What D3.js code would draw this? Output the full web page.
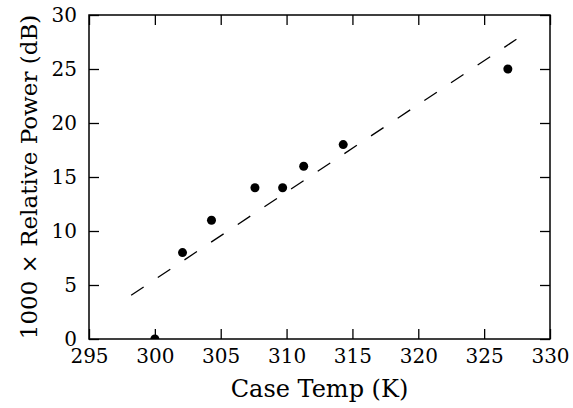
<!DOCTYPE html>
<html lang="en">
<head>
<meta charset="utf-8">
<title>Relative Power vs Case Temp</title>
<script src="https://d3js.org/d3.v7.min.js"></script>
<style>
  body { margin: 0; background: #fff; }
  svg text { font-family: "DejaVu Serif", serif; fill: #000; }
</style>
</head>
<body>
<div id="chart"></div>
<script>
// measured points
var caseTemp = [300.0, 302.1, 304.3, 307.6, 309.7, 311.3, 314.3, 326.8];
var relPower = [0, 8, 11, 14, 14, 16, 18, 25];

// fitted trend line (dashed)
var fitTemp = [298.2, 327.45];
var fitPower = [4.05, 27.75];

var xTicks = [295, 300, 305, 310, 315, 320, 325, 330];
var yTicks = [0, 5, 10, 15, 20, 25, 30];

var margin = {top: 15, right: 23, bottom: 69, left: 89},
    width = 573 - margin.left - margin.right,
    height = 408 - margin.top - margin.bottom;

var svg = d3.select("#chart").append("svg")
    .attr("width", 573)
    .attr("height", 408);

var g = svg.append("g")
    .attr("transform", "translate(" + margin.left + "," + margin.top + ")");

var x = d3.scaleLinear().domain([295, 330]).range([0, width]);
var y = d3.scaleLinear().domain([0, 30]).range([height, 0]);

g.append("clipPath").attr("id", "plot-clip")
  .append("rect").attr("width", width).attr("height", height);

// ticks on all four sides, pointing inward
function styleAxis(sel) {
    sel.select(".domain").remove();
    sel.selectAll(".tick line").attr("stroke", "#000").attr("stroke-width", 1.3);
    sel.selectAll(".tick text").style("font-size", "20px");
}

g.append("g")
    .attr("transform", "translate(0," + height + ")")
    .call(d3.axisBottom(x).tickValues(xTicks).tickSizeInner(-10).tickSizeOuter(0).tickPadding(10).tickFormat(d3.format("d")))
    .call(styleAxis);

g.append("g")
    .call(d3.axisTop(x).tickValues(xTicks).tickSizeInner(-10).tickSizeOuter(0).tickFormat(""))
    .call(styleAxis);

g.append("g")
    .call(d3.axisLeft(y).tickValues(yTicks).tickSizeInner(-10).tickSizeOuter(0).tickPadding(12).tickFormat(d3.format("d")))
    .call(styleAxis);

g.append("g")
    .attr("transform", "translate(" + width + ",0)")
    .call(d3.axisRight(y).tickValues(yTicks).tickSizeInner(-10).tickSizeOuter(0).tickFormat(""))
    .call(styleAxis);

// frame
g.append("rect")
    .attr("width", width)
    .attr("height", height)
    .attr("fill", "none")
    .attr("stroke", "#000")
    .attr("stroke-width", 1.5);

var plot = g.append("g").attr("clip-path", "url(#plot-clip)");

var line = d3.line()
    .x(function(d, i) { return x(fitTemp[i]); })
    .y(function(d, i) { return y(fitPower[i]); });

plot.append("path")
    .datum(fitTemp)
    .attr("d", line)
    .attr("fill", "none")
    .attr("stroke", "#000")
    .attr("stroke-width", 1.3)
    .attr("stroke-dasharray", "15,17");

plot.selectAll(".pt")
    .data(caseTemp)
    .enter()
    .append("circle")
    .attr("class", "pt")
    .attr("cx", function(d) { return x(d); })
    .attr("cy", function(d, i) { return y(relPower[i]); })
    .attr("r", 4.5)
    .attr("fill", "#000");

// axis labels
svg.append("text")
    .attr("x", margin.left + width / 2)
    .attr("y", 397)
    .attr("text-anchor", "middle")
    .style("font-size", "24px")
    .text("Case Temp (K)");

svg.append("text")
    .attr("transform", "translate(37," + (margin.top + height / 2) + ") rotate(-90)")
    .attr("text-anchor", "middle")
    .style("font-size", "23px")
    .text("1000 \u00d7 Relative Power (dB)");
</script>
</body>
</html>
